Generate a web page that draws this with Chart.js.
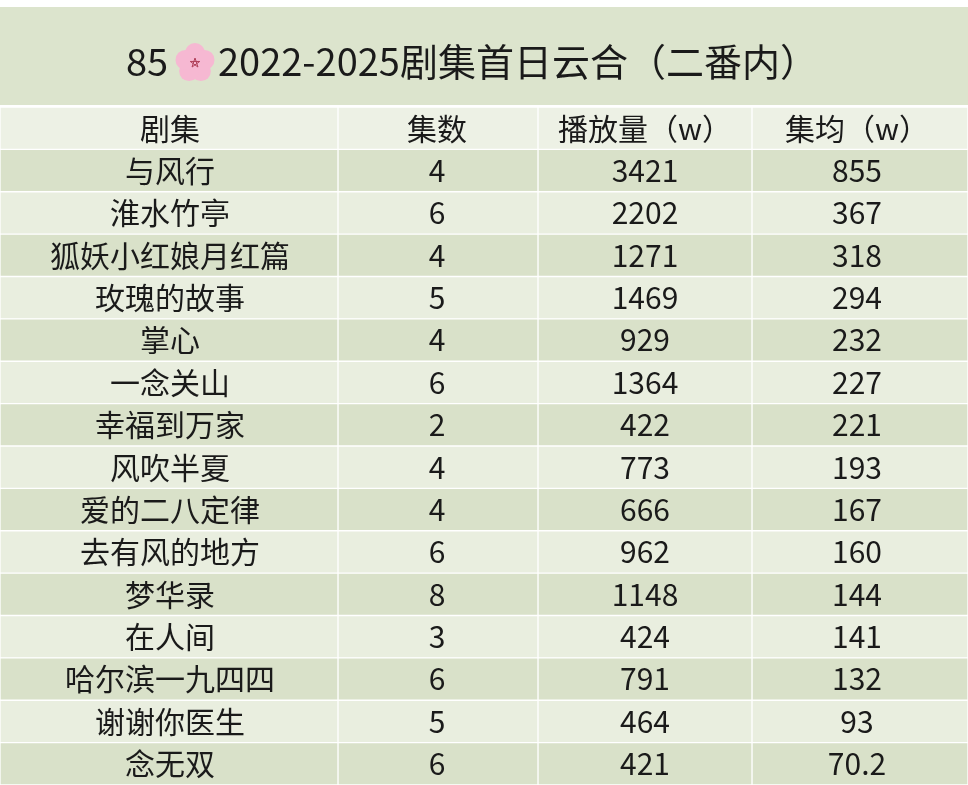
<!DOCTYPE html>
<html><head><meta charset="utf-8">
<script src="https://cdn.jsdelivr.net/npm/chart.js@4"></script>
<style>html,body{margin:0;padding:0;background:#fff}#w{width:968px;height:785px}</style>
</head><body><div id="w"><canvas id="c"></canvas></div>
<script>
const titleText = "2022-2025剧集首日云合（二番内）";
const headers = ["剧集","集数","播放量（w）","集均（w）"];
const names = ["与风行","淮水竹亭","狐妖小红娘月红篇","玫瑰的故事","掌心","一念关山","幸福到万家","风吹半夏","爱的二八定律","去有风的地方","梦华录","在人间","哈尔滨一九四四","谢谢你医生","念无双"];
const episodes = ["4","6","4","5","4","6","2","4","4","6","8","3","6","5","6"];
const views = ["3421","2202","1271","1469","929","1364","422","773","666","962","1148","424","791","464","421"];
const avg = ["855","367","318","294","232","227","221","193","167","160","144","141","132","93","70.2"];
const colEdges = [0,338,538,752,968];
const colCenters = [170,437,645,857];

const rows = ["header"].concat(names);
const rowColor = (i)=> i===0 ? "#edf1e5" : (i%2===1 ? "#d9e1c9" : "#e9eedf");
const datasets = [0,1,2,3].map(c=>({
  data: rows.map(()=>[colEdges[c],colEdges[c+1]]),
  backgroundColor: rows.map((_,i)=>rowColor(i)),
  borderColor:"#ffffff", borderWidth:1, borderSkipped:false,
  barPercentage:1, categoryPercentage:1, grouped:false
}));
const font = '"Noto Sans CJK SC", "Noto Sans", sans-serif';
const textPlugin = {
  id:"txt",
  beforeDraw(chart){
    const ctx=chart.ctx;
    ctx.save();
    ctx.fillStyle="#fff";ctx.fillRect(0,0,chart.width,chart.height);
    ctx.fillStyle="#dce4cd";ctx.fillRect(0,7,chart.width,98);
    ctx.restore();
  },
  afterDraw(chart){
    const ctx=chart.ctx, y=chart.scales.y;
    ctx.save();
    ctx.fillStyle="#1a1a1a";ctx.textBaseline="middle";
    ctx.font='38px '+font;
    ctx.textAlign="left";
    ctx.fillText("85",126,62);
    const fx=195, fy=63;
    ctx.fillStyle="#f6b8d2";
    for(let k=0;k<5;k++){const a=k*2*Math.PI/5-Math.PI/2;ctx.beginPath();ctx.arc(fx+10*Math.cos(a),fy+10*Math.sin(a),10,0,7);ctx.fill();}
    ctx.strokeStyle="#b0405a";ctx.lineWidth=1;ctx.beginPath();
    for(let k=0;k<6;k++){const a=k*4*Math.PI/5-Math.PI/2;ctx.lineTo(fx+5*Math.cos(a),fy+5*Math.sin(a));}ctx.stroke();
    ctx.fillStyle="#1a1a1a";
    ctx.fillText(titleText,218,62);
    ctx.font='30px '+font;ctx.textAlign="center";
    rows.forEach((r,i)=>{
      const py=y.getPixelForValue(i);
      const cells = i===0 ? headers : [names[i-1],episodes[i-1],views[i-1],avg[i-1]];
      cells.forEach((t,c)=>ctx.fillText(t,colCenters[c],py));
    });
    ctx.restore();
  }
};
new Chart(document.getElementById("c"),{
  type:"bar",
  data:{labels:rows,datasets},
  options:{indexAxis:"y",responsive:true,maintainAspectRatio:false,animation:false,
    layout:{padding:{top:107,left:0,right:0,bottom:0}},
    plugins:{legend:{display:false},tooltip:{enabled:false}},
    scales:{x:{type:"linear",min:0,max:968,display:false},y:{display:false}}},
  plugins:[textPlugin]
});
</script></body></html>
